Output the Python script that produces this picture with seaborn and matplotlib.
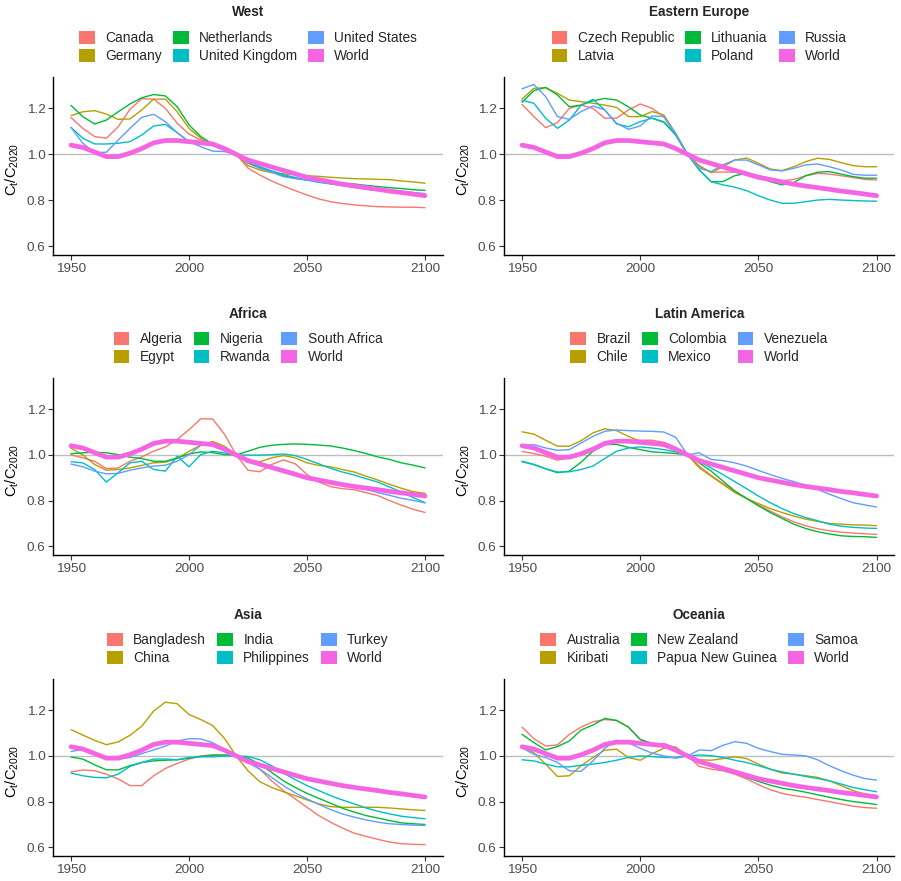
import pandas as pd
import matplotlib
matplotlib.use("Agg")
import matplotlib.pyplot as plt
from matplotlib.patches import Patch
import seaborn as sns

years = list(range(1950, 2101, 5))

world = [1.04, 1.03, 1.01, 0.99, 0.99, 1.005, 1.025, 1.05, 1.06, 1.06, 1.055, 1.05, 1.045, 1.025, 1.0,
         0.975, 0.96, 0.945, 0.93, 0.915, 0.90, 0.89, 0.88, 0.87, 0.862, 0.855, 0.848, 0.84, 0.834, 0.827, 0.82]

# West
canada = [1.16, 1.113, 1.077, 1.07, 1.12, 1.196, 1.242, 1.24, 1.2, 1.135, 1.088, 1.062, 1.048, 1.026, 1.0,
          0.94, 0.91, 0.884, 0.862, 0.842, 0.823, 0.806, 0.794, 0.786, 0.78, 0.776, 0.772, 0.771, 0.77, 0.77, 0.768]
germany = [1.168, 1.185, 1.19, 1.175, 1.152, 1.154, 1.193, 1.24, 1.24, 1.185, 1.113, 1.07, 1.04, 1.022, 1.0,
           0.951, 0.932, 0.92, 0.915, 0.912, 0.907, 0.904, 0.9, 0.897, 0.894, 0.893, 0.891, 0.89, 0.884, 0.88, 0.874]
netherlands = [1.213, 1.164, 1.132, 1.149, 1.185, 1.219, 1.246, 1.26, 1.254, 1.207, 1.128, 1.077, 1.045, 1.023, 1.0,
               0.965, 0.943, 0.923, 0.906, 0.896, 0.888, 0.884, 0.88, 0.875, 0.871, 0.865, 0.86, 0.855, 0.851, 0.846, 0.843]
united_kingdom = [1.117, 1.07, 1.045, 1.045, 1.048, 1.055, 1.084, 1.123, 1.13, 1.094, 1.055, 1.045, 1.038, 1.019, 1.0,
                  0.968, 0.946, 0.928, 0.912, 0.899, 0.888, 0.878, 0.871, 0.864, 0.858, 0.852, 0.846, 0.842, 0.838, 0.833, 0.829]
united_states = [1.117, 1.048, 1.007, 1.009, 1.062, 1.113, 1.161, 1.174, 1.142, 1.094, 1.055, 1.033, 1.014, 1.012, 1.0,
                 0.961, 0.939, 0.922, 0.903, 0.894, 0.888, 0.881, 0.874, 0.865, 0.857, 0.848, 0.842, 0.839, 0.836, 0.83, 0.823]

# Eastern Europe
czech_republic = [1.217, 1.164, 1.116, 1.138, 1.2, 1.214, 1.2, 1.157, 1.157, 1.193, 1.219, 1.2, 1.164, 1.084, 1.0,
                  0.946, 0.922, 0.923, 0.922, 0.917, 0.907, 0.896, 0.884, 0.891, 0.906, 0.917, 0.914, 0.907, 0.899, 0.891, 0.888]
latvia = [1.24, 1.287, 1.29, 1.265, 1.236, 1.229, 1.222, 1.214, 1.204, 1.164, 1.164, 1.186, 1.171, 1.091, 1.0,
          0.951, 0.92, 0.946, 0.975, 0.984, 0.961, 0.936, 0.929, 0.946, 0.968, 0.983, 0.978, 0.964, 0.951, 0.946, 0.946]
lithuania = [1.226, 1.277, 1.291, 1.258, 1.207, 1.214, 1.233, 1.243, 1.236, 1.207, 1.171, 1.157, 1.139, 1.084, 1.0,
             0.932, 0.881, 0.881, 0.907, 0.917, 0.903, 0.881, 0.867, 0.877, 0.907, 0.922, 0.925, 0.914, 0.903, 0.896, 0.896]
poland = [1.235, 1.222, 1.157, 1.113, 1.149, 1.214, 1.239, 1.193, 1.132, 1.12, 1.142, 1.157, 1.142, 1.087, 1.0,
          0.932, 0.881, 0.867, 0.857, 0.842, 0.82, 0.801, 0.787, 0.787, 0.794, 0.801, 0.804, 0.801, 0.799, 0.797, 0.796]
russia = [1.285, 1.304, 1.251, 1.164, 1.152, 1.186, 1.21, 1.193, 1.135, 1.109, 1.123, 1.167, 1.164, 1.091, 1.0,
          0.939, 0.925, 0.954, 0.975, 0.975, 0.954, 0.932, 0.928, 0.939, 0.954, 0.958, 0.946, 0.932, 0.913, 0.909, 0.909]

# Africa
algeria = [1.0, 0.987, 0.972, 0.94, 0.943, 0.972, 0.991, 1.016, 1.035, 1.067, 1.11, 1.158, 1.157, 1.091, 1.0,
           0.933, 0.926, 0.958, 0.978, 0.961, 0.914, 0.881, 0.861, 0.852, 0.848, 0.835, 0.822, 0.8, 0.78, 0.762, 0.748]
egypt = [1.029, 1.0, 0.958, 0.933, 0.936, 0.943, 0.954, 0.965, 0.968, 0.984, 1.016, 1.042, 1.059, 1.038, 1.0,
         0.977, 0.97, 0.987, 0.997, 0.987, 0.965, 0.954, 0.948, 0.936, 0.925, 0.907, 0.89, 0.871, 0.854, 0.839, 0.832]
nigeria = [1.005, 1.009, 1.012, 1.009, 1.001, 0.99, 0.984, 0.972, 0.972, 0.987, 1.004, 1.013, 1.01, 1.001, 1.0,
           1.016, 1.033, 1.042, 1.046, 1.048, 1.046, 1.043, 1.039, 1.03, 1.019, 1.006, 0.991, 0.98, 0.965, 0.955, 0.943]
rwanda = [0.97, 0.965, 0.936, 0.881, 0.922, 0.965, 0.972, 0.936, 0.929, 0.994, 0.948, 1.001, 1.016, 1.009, 1.0,
          0.999, 0.999, 1.001, 1.004, 0.997, 0.98, 0.961, 0.941, 0.925, 0.912, 0.896, 0.881, 0.859, 0.838, 0.813, 0.791]
south_africa = [0.96, 0.948, 0.929, 0.917, 0.919, 0.933, 0.943, 0.951, 0.955, 0.972, 1.001, 1.042, 1.052, 1.03, 1.0,
                0.968, 0.958, 0.946, 0.936, 0.922, 0.903, 0.888, 0.875, 0.868, 0.859, 0.849, 0.835, 0.823, 0.81, 0.801, 0.79]

# Latin America
brazil = [1.015, 1.006, 0.994, 0.977, 0.987, 1.009, 1.03, 1.048, 1.059, 1.064, 1.064, 1.064, 1.055, 1.033, 1.0,
          0.951, 0.91, 0.875, 0.842, 0.81, 0.781, 0.754, 0.729, 0.707, 0.69, 0.677, 0.668, 0.662, 0.658, 0.655, 0.652]
chile = [1.101, 1.091, 1.064, 1.038, 1.038, 1.062, 1.096, 1.114, 1.106, 1.081, 1.059, 1.049, 1.042, 1.028, 1.0,
         0.943, 0.907, 0.871, 0.835, 0.81, 0.787, 0.765, 0.748, 0.732, 0.719, 0.709, 0.7, 0.697, 0.694, 0.693, 0.69]
colombia = [0.972, 0.958, 0.939, 0.922, 0.929, 0.968, 1.016, 1.045, 1.046, 1.033, 1.023, 1.013, 1.01, 1.006, 1.0,
            0.965, 0.929, 0.886, 0.842, 0.809, 0.777, 0.748, 0.722, 0.697, 0.678, 0.664, 0.654, 0.646, 0.643, 0.642, 0.639]
mexico = [0.97, 0.958, 0.939, 0.925, 0.926, 0.936, 0.951, 0.984, 1.016, 1.03, 1.035, 1.03, 1.023, 1.013, 1.0,
          0.972, 0.943, 0.914, 0.883, 0.852, 0.82, 0.791, 0.765, 0.743, 0.726, 0.712, 0.697, 0.688, 0.683, 0.68, 0.678]
venezuela = [1.04, 1.045, 1.03, 1.02, 1.023, 1.052, 1.081, 1.103, 1.109, 1.106, 1.104, 1.103, 1.1, 1.077, 1.0,
             1.009, 0.98, 0.975, 0.965, 0.951, 0.932, 0.914, 0.897, 0.883, 0.867, 0.849, 0.828, 0.809, 0.791, 0.781, 0.772]

# Asia
bangladesh = [0.93, 0.938, 0.935, 0.92, 0.899, 0.87, 0.87, 0.913, 0.945, 0.967, 0.986, 1.0, 1.004, 1.003, 1.0,
              0.978, 0.942, 0.891, 0.848, 0.812, 0.775, 0.739, 0.71, 0.684, 0.662, 0.648, 0.635, 0.623, 0.616, 0.613, 0.612]
china = [1.115, 1.091, 1.068, 1.049, 1.061, 1.09, 1.13, 1.196, 1.235, 1.228, 1.181, 1.159, 1.133, 1.077, 1.0,
         0.935, 0.887, 0.862, 0.843, 0.826, 0.807, 0.79, 0.778, 0.775, 0.775, 0.775, 0.775, 0.772, 0.768, 0.764, 0.761]
india = [0.995, 0.986, 0.961, 0.939, 0.939, 0.957, 0.971, 0.978, 0.981, 0.983, 0.99, 0.997, 1.003, 1.004, 1.0,
         0.99, 0.964, 0.928, 0.891, 0.862, 0.836, 0.814, 0.793, 0.771, 0.754, 0.739, 0.728, 0.717, 0.707, 0.703, 0.7]
philippines = [0.925, 0.913, 0.906, 0.904, 0.92, 0.954, 0.971, 0.986, 0.986, 0.983, 0.993, 0.996, 0.996, 0.999, 1.0,
               0.997, 0.983, 0.957, 0.925, 0.896, 0.87, 0.848, 0.826, 0.807, 0.79, 0.772, 0.758, 0.746, 0.736, 0.73, 0.725]
turkey = [1.019, 1.029, 1.007, 0.986, 0.986, 0.993, 1.01, 1.026, 1.043, 1.065, 1.075, 1.074, 1.058, 1.029, 1.0,
          0.971, 0.942, 0.906, 0.87, 0.838, 0.812, 0.788, 0.765, 0.746, 0.732, 0.72, 0.71, 0.703, 0.7, 0.697, 0.696]

# Oceania
australia = [1.126, 1.075, 1.043, 1.048, 1.094, 1.126, 1.149, 1.159, 1.155, 1.126, 1.072, 1.051, 1.054, 1.036, 1.0,
             0.954, 0.942, 0.935, 0.92, 0.899, 0.874, 0.852, 0.836, 0.826, 0.819, 0.809, 0.8, 0.79, 0.78, 0.774, 0.771]
kiribati = [1.04, 1.014, 0.964, 0.91, 0.913, 0.957, 0.993, 1.025, 1.029, 0.993, 0.981, 1.01, 1.033, 1.039, 1.0,
            0.983, 0.981, 0.988, 0.996, 0.988, 0.964, 0.942, 0.925, 0.92, 0.913, 0.906, 0.891, 0.87, 0.848, 0.833, 0.826]
new_zealand = [1.094, 1.058, 1.026, 1.041, 1.065, 1.113, 1.135, 1.164, 1.155, 1.126, 1.072, 1.055, 1.039, 1.025, 1.0,
               0.971, 0.954, 0.939, 0.925, 0.906, 0.888, 0.872, 0.859, 0.851, 0.841, 0.83, 0.819, 0.809, 0.8, 0.794, 0.787]
papua_new_guinea = [0.983, 0.978, 0.964, 0.952, 0.952, 0.959, 0.964, 0.971, 0.981, 0.993, 1.0, 0.997, 0.993, 0.993, 1.0,
                    1.004, 1.001, 0.993, 0.981, 0.971, 0.957, 0.942, 0.93, 0.92, 0.91, 0.901, 0.891, 0.877, 0.862, 0.852, 0.843]
samoa = [1.035, 1.007, 0.993, 0.971, 0.935, 0.932, 0.978, 1.033, 1.068, 1.058, 1.033, 1.012, 1.0, 0.99, 1.0,
         1.026, 1.023, 1.046, 1.062, 1.055, 1.033, 1.019, 1.007, 1.004, 1.0, 0.983, 0.957, 0.935, 0.916, 0.901, 0.894]

regions = ["West", "Eastern Europe", "Africa", "Latin America", "Asia", "Oceania"]
region_countries = {
    "West": [("Canada", canada), ("Germany", germany), ("Netherlands", netherlands),
             ("United Kingdom", united_kingdom), ("United States", united_states)],
    "Eastern Europe": [("Czech Republic", czech_republic), ("Latvia", latvia), ("Lithuania", lithuania),
                       ("Poland", poland), ("Russia", russia)],
    "Africa": [("Algeria", algeria), ("Egypt", egypt), ("Nigeria", nigeria),
               ("Rwanda", rwanda), ("South Africa", south_africa)],
    "Latin America": [("Brazil", brazil), ("Chile", chile), ("Colombia", colombia),
                      ("Mexico", mexico), ("Venezuela", venezuela)],
    "Asia": [("Bangladesh", bangladesh), ("China", china), ("India", india),
             ("Philippines", philippines), ("Turkey", turkey)],
    "Oceania": [("Australia", australia), ("Kiribati", kiribati), ("New Zealand", new_zealand),
                ("Papua New Guinea", papua_new_guinea), ("Samoa", samoa)],
}

rows = []
for region in regions:
    for name, vals in region_countries[region] + [("World", world)]:
        for yr, v in zip(years, vals):
            rows.append((region, name, yr, v))
df = pd.DataFrame(rows, columns=["region", "country", "year", "ratio"])

palette = ["#F8766D", "#B79F00", "#00BA38", "#00BFC4", "#619CFF", "#F564E3"]

sns.set_theme(style="ticks")
plt.rcParams["font.family"] = ["Liberation Sans", "DejaVu Sans"]
plt.rcParams["mathtext.fontset"] = "custom"
plt.rcParams["mathtext.rm"] = "Liberation Sans"
plt.rcParams["mathtext.it"] = "Liberation Sans:italic"

W, H = 901, 881
fig = plt.figure(figsize=(W / 100, H / 100), dpi=100)

col_x = [(53.3, 442.7), (504.3, 894.3)]
row_y = [(77.3, 255.0), (378.3, 555.0), (679.3, 856.0)]

for i, region in enumerate(regions):
    (x0, x1), (y0, y1) = col_x[i % 2], row_y[i // 2]
    ax = fig.add_axes([x0 / W, 1 - y1 / H, (x1 - x0) / W, (y1 - y0) / H])
    sub = df[df.region == region]
    names = [n for n, _ in region_countries[region]]

    ax.axhline(1.0, color="#BEBEBE", lw=1.0, zorder=1)
    sns.lineplot(data=sub[sub.country != "World"], x="year", y="ratio", hue="country",
                 hue_order=names, palette=palette[:5], linewidth=1.0, estimator=None,
                 legend=False, ax=ax, zorder=2)
    sns.lineplot(data=sub[sub.country == "World"], x="year", y="ratio", color=palette[5],
                 linewidth=3.4, estimator=None, legend=False, ax=ax, zorder=3)

    ax.set_xlim(1942.5, 2107.5)
    ax.set_ylim(0.562, 1.335)
    ax.set_xticks([1950, 2000, 2050, 2100])
    ax.set_yticks([0.6, 0.8, 1.0, 1.2])
    ax.set_yticklabels(["0.6", "0.8", "1.0", "1.2"])
    ax.tick_params(labelsize=9.7, colors="#333333", labelcolor="#4D4D4D", length=3.5, width=0.8, pad=2)
    ax.set_xlabel("")
    ax.set_ylabel(r"$\mathrm{C_t/C_{2020}}$", fontsize=10.5, color="black")
    ax.yaxis.set_label_coords(-0.083, 0.48)
    for side in ["top", "right"]:
        ax.spines[side].set_visible(False)
    for side in ["left", "bottom"]:
        ax.spines[side].set_color("black")
        ax.spines[side].set_linewidth(1.0)

    handles = [Patch(facecolor=c, edgecolor="none") for c in palette]
    ax.legend(handles, names + ["World"], ncol=3, loc="lower center", bbox_to_anchor=(0.5, 1.08),
              frameon=False, fontsize=9.9, handlelength=1.15, handleheight=1.05, handletextpad=0.75,
              columnspacing=0.8, labelspacing=0.28, borderaxespad=0, borderpad=0)
    ax.text(0.5, 1.365, region, transform=ax.transAxes, ha="center", va="center",
            fontsize=9.8, fontweight="bold")

fig.savefig("out.png", dpi=100)
